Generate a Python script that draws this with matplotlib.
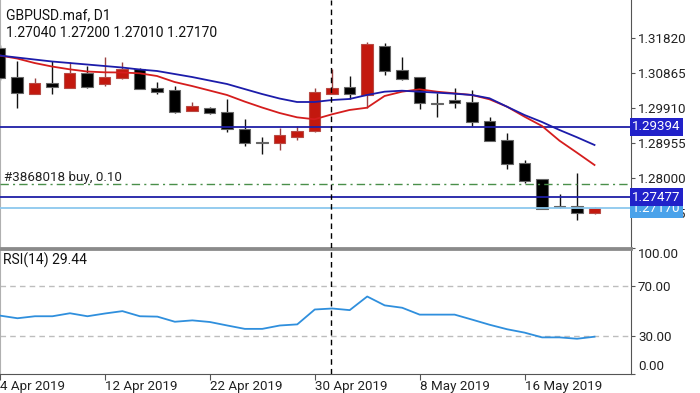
import matplotlib
matplotlib.use('Agg')
import matplotlib.pyplot as plt
import matplotlib.transforms as mtransforms

plt.rcParams['font.family'] = ['Roboto', 'DejaVu Sans']

# Daily GBPUSD candles, 4 Apr 2019 .. 21 May 2019
tick_pos = [0, 6, 12, 18, 24, 30]
tick_labels = ['4 Apr 2019', '12 Apr 2019', '22 Apr 2019', '30 Apr 2019',
               '8 May 2019', '16 May 2019']

opens = [1.31539, 1.30764, 1.30292, 1.30600, 1.30464, 1.30857, 1.30557, 1.30720, 1.30966, 1.30448,
         1.30401, 1.29836, 1.29918, 1.29793, 1.29337, 1.28991, 1.28947, 1.29127, 1.29283, 1.30284,
         1.30475, 1.30265, 1.31602, 1.30947, 1.30748, 1.30038, 1.30128, 1.30082, 1.29564, 1.29037,
         1.28418, 1.27965, 1.27236, 1.27236, 1.27040]
highs = [1.31629, 1.31201, 1.30720, 1.31201, 1.31173, 1.31056, 1.31310, 1.31157, 1.31010, 1.30628,
         1.30510, 1.30074, 1.29946, 1.30147, 1.29602, 1.29127, 1.29373, 1.29427, 1.30448, 1.30974,
         1.30783, 1.31719, 1.31675, 1.31293, 1.30764, 1.30311, 1.30448, 1.30401, 1.29673, 1.29220,
         1.28491, 1.27981, 1.27564, 1.28128, 1.27200]
lows = [1.30674, 1.29918, 1.30284, 1.30284, 1.30448, 1.30464, 1.30510, 1.30701, 1.30428, 1.30284,
        1.29765, 1.29830, 1.29738, 1.29263, 1.28873, 1.28647, 1.28764, 1.29037, 1.29263, 1.30280,
        1.30147, 1.29918, 1.30810, 1.30674, 1.29875, 1.29656, 1.29902, 1.29419, 1.29000, 1.28237,
        1.27872, 1.27160, 1.27182, 1.26854, 1.27010]
closes = [1.30720, 1.30311, 1.30584, 1.30491, 1.30873, 1.30475, 1.30764, 1.30966, 1.30430, 1.30355,
          1.29809, 1.29965, 1.29765, 1.29337, 1.28963, 1.28963, 1.29173, 1.29283, 1.30338, 1.30448,
          1.30284, 1.31648, 1.30920, 1.30701, 1.30038, 1.30011, 1.30038, 1.29536, 1.29010, 1.28374,
          1.27918, 1.27163, 1.27201, 1.27037, 1.27170]

# moving averages (red = fast, blue = slow)
ma_fast = [1.31343, 1.31261, 1.31138, 1.31042, 1.30966, 1.30906, 1.30884, 1.30879, 1.30857, 1.30783,
           1.30620, 1.30510, 1.30388, 1.30265, 1.30087, 1.29924, 1.29774, 1.29656, 1.29602, 1.29738,
           1.29856, 1.29918, 1.30237, 1.30355, 1.30420, 1.30355, 1.30311, 1.30265, 1.30147, 1.29946,
           1.29673, 1.29419, 1.29018, 1.28690, 1.28355]
ma_slow = [1.31343, 1.31288, 1.31233, 1.31179, 1.31138, 1.31097, 1.31056, 1.31015, 1.30961, 1.30920,
           1.30838, 1.30756, 1.30660, 1.30565, 1.30428, 1.30292, 1.30169, 1.30074, 1.30074, 1.30128,
           1.30156, 1.30265, 1.30355, 1.30382, 1.30355, 1.30328, 1.30300, 1.30265, 1.30175, 1.29946,
           1.29719, 1.29528, 1.29310, 1.29111, 1.28901]

rsi = [46.3, 44.2, 45.8, 45.8, 48.2, 45.8, 48.0, 49.9, 45.8, 45.5,
       41.4, 42.5, 41.2, 38.4, 35.7, 35.7, 38.4, 39.3, 51.2, 52.0,
       50.7, 61.6, 54.5, 52.6, 47.1, 47.1, 47.1, 43.1, 39.0, 35.4,
       32.7, 28.9, 28.9, 27.8, 29.44]

price_ticks = [1.31820, 1.30865, 1.29910, 1.28955, 1.28000, 1.27045]
rsi_ticks = [0, 30, 70, 100]
rsi_tick_labels = ['0.00', '30.00', '70.00', '100.00']

line_levels = [1.29394, 1.27477]   # navy horizontal lines
bid_level = 1.27170                 # light blue bid line
order_level = 1.27836               # open buy order

x = list(range(len(opens)))
W, H = 700, 393

fig = plt.figure(figsize=(7, 3.93), dpi=100)
ax = fig.add_axes([0, 1 - 248 / H, 631 / W, 248 / H])
ax2 = fig.add_axes([0, 1 - 373.5 / H, 631 / W, 125 / H])

xlim = (0.5 / 17.5, 631.5 / 17.5)

# ---- price panel ----
up = [c > o for o, c in zip(opens, closes)]
bottoms = [min(o, c) for o, c in zip(opens, closes)]
heights = [abs(c - o) for o, c in zip(opens, closes)]
body_col = ['#c3180e' if u else '#000000' for u in up]
edge_col = ['#b84a44' if u else '#666666' for u in up]
wick_col = ['#9a4040' if u else '#111111' for u in up]

ax.vlines(x, lows, highs, colors=wick_col, linewidth=1.0, zorder=2)
ax.bar(x, heights, bottom=bottoms, width=0.68, color=body_col,
       edgecolor=edge_col, linewidth=0.8, zorder=3)

for lvl in line_levels:
    ax.axhline(lvl, color='#1f1fa6', linewidth=1.3, zorder=4)
ax.axhline(bid_level, color='#8cc8ee', linewidth=1.3, zorder=4)
ax.axhline(order_level, color='#4a8f4a', linewidth=1.0,
           linestyle=(0, (6, 3, 1.5, 3)), zorder=4)

ax.plot(x, ma_fast, color='#d51d1d', linewidth=1.3, zorder=5)
ax.plot(x, ma_slow, color='#1c1caa', linewidth=1.3, zorder=5)

ax.axvline(18.94, color='black', linewidth=1.0, linestyle=(0, (4, 3)), zorder=6)

ax.set_xlim(*xlim)
ax.set_ylim(1.26090, 1.32857)
ax.set_xticks([])
ax.yaxis.tick_right()
ax.set_yticks(price_ticks, ['%.5f' % p for p in price_ticks])
ax.tick_params(axis='y', length=3, width=0.8, color='#555555', pad=2,
               labelsize=9.6, labelcolor='#222222')

ax.spines['top'].set_visible(False)
ax.spines['left'].set_color('#b0b0b0')
ax.spines['right'].set_color('#555555')
ax.spines['bottom'].set_color('#8a8a8a')
ax.spines['bottom'].set_linewidth(2)

trans = mtransforms.blended_transform_factory(ax.transAxes, ax.transData)
ax.text(1.0015, bid_level - 0.00008, '%.5f' % bid_level, transform=trans, color='white',
        fontsize=9.6, va='center', ha='left', zorder=10, clip_on=False,
        bbox=dict(boxstyle='square,pad=0.18', fc='#4aa2ea', ec='none'))
for lvl in line_levels:
    ax.text(1.0015, lvl, '%.5f' % lvl, transform=trans, color='white',
            fontsize=9.6, va='center', ha='left', zorder=11, clip_on=False,
            bbox=dict(boxstyle='square,pad=0.18', fc='#2121c9', ec='none'))

# open order label sits just above its line
ax.text(4 / 631, order_level + 0.00008, '#3868018 buy, 0.10', fontsize=9.6,
        color='#222222', va='bottom', ha='left', transform=trans)
ax.text(6 / 631, 1 - 15 / 248, 'GBPUSD.maf, D1', transform=ax.transAxes,
        fontsize=10, va='center', ha='left', color='#111111')
ax.text(6 / 631, 1 - 33 / 248, '%.5f %.5f %.5f %.5f' % (opens[-1], highs[-1], lows[-1], closes[-1]),
        transform=ax.transAxes, fontsize=10, va='center', ha='left', color='#111111')

# ---- RSI panel ----
ax2.plot(x, rsi, color='#2f8fdd', linewidth=1.3, zorder=3)
for lvl in [70, 30]:
    ax2.axhline(lvl, color='#bdbdbd', linewidth=1.0, linestyle=(0, (4, 3)), zorder=1)
ax2.axvline(18.94, color='black', linewidth=1.0, linestyle=(0, (4, 3)), zorder=4)

ax2.set_xlim(*xlim)
ax2.set_ylim(0, 100)
ax2.yaxis.tick_right()
ax2.set_yticks(rsi_ticks, rsi_tick_labels)
ax2.tick_params(axis='y', length=3, width=0.8, color='#555555', pad=2,
                labelsize=9.6, labelcolor='#222222')
labs = ax2.get_yticklabels()
labs[0].set_va('bottom')
labs[-1].set_va('top')

ax2.set_xticks(tick_pos, tick_labels, ha='left')
ax2.tick_params(axis='x', length=4, width=0.8, color='#555555', pad=1,
                labelsize=9.6, labelcolor='#222222')

ax2.spines['top'].set_color('#8a8a8a')
ax2.spines['top'].set_linewidth(2)
ax2.spines['left'].set_color('#b0b0b0')
ax2.spines['right'].set_color('#555555')
ax2.spines['bottom'].set_color('#555555')

ax2.text(3 / 631, 1 - 12 / 125, 'RSI(14) %.2f' % rsi[-1], transform=ax2.transAxes,
         fontsize=10, va='center', ha='left', color='#111111')

fig.savefig('out.png', dpi=100)
